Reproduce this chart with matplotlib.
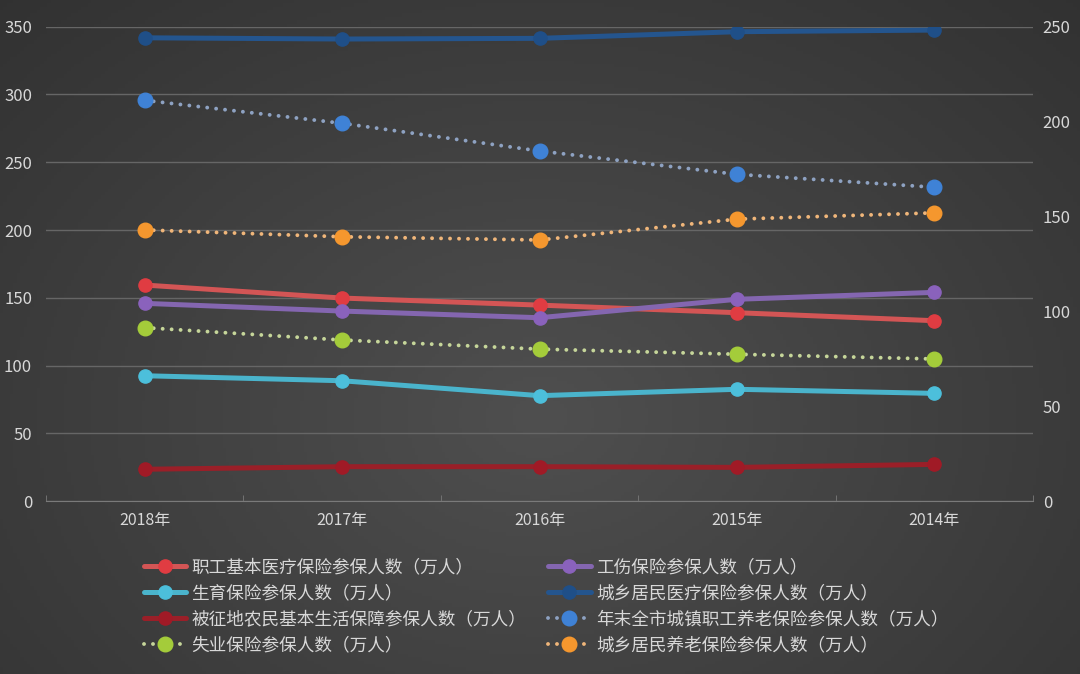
import numpy as np
import matplotlib
matplotlib.use('Agg')
from matplotlib import pyplot as plt

plt.rcParams['font.family'] = ['Noto Sans CJK SC', 'DejaVu Sans']

years = ['2018年', '2017年', '2016年', '2015年', '2014年']

# left axis series
zhigong_yiliao = [159.4, 149.8, 144.6, 139.0, 133.1]
gongshang = [145.9, 140.2, 135.3, 148.9, 154.0]
shengyu = [92.5, 88.8, 77.8, 82.5, 79.5]
chengxiang_yiliao = [341.8, 340.9, 341.4, 346.3, 347.5]
beizhengdi = [23.5, 25.4, 25.4, 24.9, 27.1]
# right axis series
zhigong_yanglao = [211.2, 199.1, 184.5, 172.2, 165.4]
shiye = [91.4, 84.9, 80.1, 77.4, 74.9]
chengxiang_yanglao = [142.9, 139.3, 137.6, 148.6, 151.9]

left_ticks = [0, 50, 100, 150, 200, 250, 300, 350]
right_ticks = [0, 50, 100, 150, 200, 250]

fig = plt.figure(figsize=(10.8, 6.74), dpi=100)

# dark radial background
bg = fig.add_axes([0, 0, 1, 1], zorder=-10)
yy, xx = np.mgrid[0:1:200j, 0:1:320j]
r = np.sqrt(((xx - 0.5) / 0.75) ** 2 + ((yy - 0.62) / 0.9) ** 2)
shade = np.clip(0.31 - 0.12 * r, 0.17, 0.31)
bg.imshow(np.dstack([shade, shade, shade]), aspect='auto', extent=[0, 1, 0, 1], origin='upper')
bg.axis('off')

ax = fig.add_axes([0.0426, 0.2565, 0.9139, 0.7039])
ax.patch.set_visible(False)
ax2 = ax.twinx()
ax2.patch.set_visible(False)

grid_c = '#666666'
text_c = '#d8d8d8'

solid = dict(lw=3.6, marker='o', markersize=9.5, solid_capstyle='round', zorder=3)
dotted = dict(lw=2.8, marker='o', markersize=10.5, linestyle=(0, (0.01, 2.3)),
              dash_capstyle='round', zorder=3)

h1, = ax.plot(years, zhigong_yiliao, color='#d35555', mfc='#e03c42', mec='#e03c42',
              label='职工基本医疗保险参保人数（万人）', **solid)
h2, = ax.plot(years, gongshang, color='#8466b0', mfc='#8a62bc', mec='#8a62bc',
              label='工伤保险参保人数（万人）', **solid)
h3, = ax.plot(years, shengyu, color='#4ab4cc', mfc='#4cbfdb', mec='#4cbfdb',
              label='生育保险参保人数（万人）', **solid)
h4, = ax.plot(years, chengxiang_yiliao, color='#24558e', mfc='#1f4f88', mec='#1f4f88',
              label='城乡居民医疗保险参保人数（万人）', **solid)
h5, = ax.plot(years, beizhengdi, color='#9a1f28', mfc='#a01a26', mec='#a01a26',
              label='被征地农民基本生活保障参保人数（万人）', **solid)
h6, = ax2.plot(years, zhigong_yanglao, color='#8ea2c2', mfc='#3f82d6', mec='#3f82d6',
               label='年末全市城镇职工养老保险参保人数（万人）', **dotted)
h7, = ax2.plot(years, shiye, color='#c6d69a', mfc='#a4cc3a', mec='#a4cc3a',
               label='失业保险参保人数（万人）', **dotted)
h8, = ax2.plot(years, chengxiang_yanglao, color='#f0b67a', mfc='#f5972e', mec='#f5972e',
               label='城乡居民养老保险参保人数（万人）', **dotted)

ax.set_xlim(-0.5, len(years) - 0.5)
ax.set_ylim(0, 350)
ax2.set_ylim(0, 250)
ax.set_yticks(left_ticks)
ax2.set_yticks(right_ticks)

ax.grid(axis='y', color=grid_c, lw=1)
ax.set_axisbelow(True)
for a in (ax, ax2):
    for s in a.spines.values():
        s.set_visible(False)
ax.spines['bottom'].set_visible(True)
ax.spines['bottom'].set_color('#7a7a7a')

ax.tick_params(axis='y', length=0, labelsize=12, labelcolor=text_c, pad=10)
ax2.tick_params(axis='y', length=0, labelsize=12, labelcolor=text_c, pad=7)
ax.tick_params(axis='x', length=0, labelsize=11.5, labelcolor=text_c, pad=8)
ax.set_xticks(np.arange(-0.5, len(years)), minor=True)
ax.tick_params(axis='x', which='minor', length=4, color='#7a7a7a', direction='in')

# legend is filled column by column, so order for two columns read row-wise
handles = [h1, h3, h5, h7, h2, h4, h6, h8]
leg = fig.legend(handles=handles, loc='upper left', bbox_to_anchor=(0.133, 0.172),
                 ncol=2, frameon=False, fontsize=12.7, numpoints=1,
                 handlelength=2.4, handletextpad=0.3, columnspacing=1.25,
                 labelspacing=0.46, borderpad=0, borderaxespad=0)
for t in leg.get_texts():
    t.set_color(text_c)

plt.savefig('out.png', dpi=100)
